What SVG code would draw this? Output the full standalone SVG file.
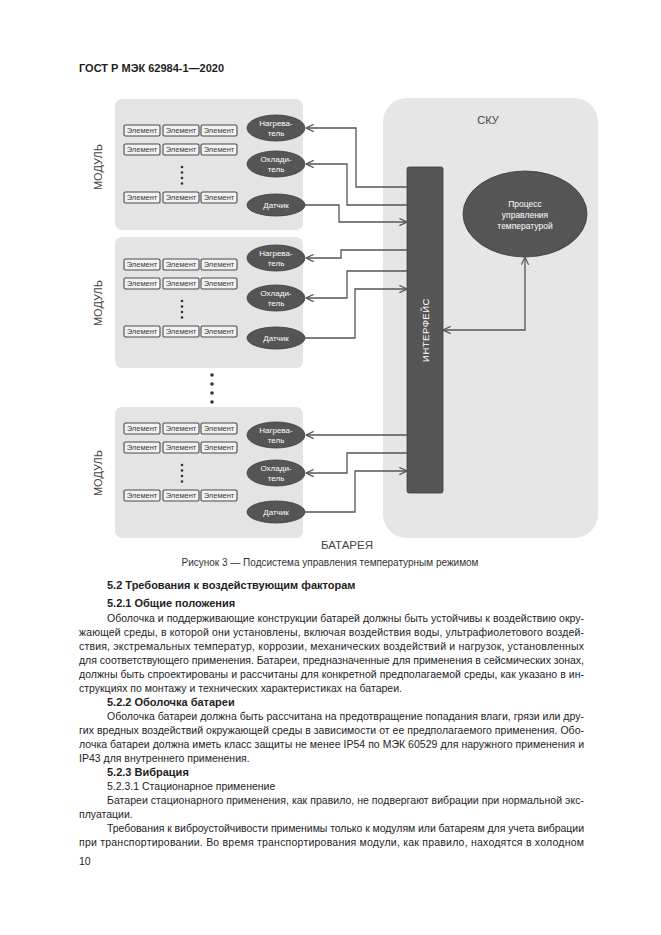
<svg xmlns="http://www.w3.org/2000/svg" width="661" height="935" viewBox="0 0 661 935">
<style>
text{font-family:"Liberation Sans",Arial,sans-serif}
.panel{fill:#e4e4e4}
.sku{fill:#e6e6e6}
.el{fill:#f2f2f2;stroke:#4a4a4a;stroke-width:1.1}
.elt{font-size:7.5px;fill:#3a3a3a;text-anchor:middle}
.ov{fill:#555;stroke:#3c3c3c;stroke-width:0.8}
.ovt{font-size:8px;fill:#fff;text-anchor:middle}
.dot{fill:#333}
.lbl{font-size:11px;fill:#444;text-anchor:middle}
.con{fill:none;stroke:#555;stroke-width:1.3}
.body{font-size:10.5px;fill:#1e1e1e}
.bold{font-size:11px;font-weight:bold;fill:#1e1e1e}
</style>
<defs>
<marker id="ah" viewBox="0 0 10 10" refX="9.5" refY="5" markerWidth="9" markerHeight="9" markerUnits="userSpaceOnUse" orient="auto-start-reverse">
<path d="M1,1 L9.5,5 L1,9" fill="none" stroke="#555" stroke-width="1.3"/>
</marker>
</defs>
<rect width="661" height="935" fill="#fff"/>
<text x="79" y="72" style="font-size:11px;font-weight:bold;fill:#1e1e1e">ГОСТ Р МЭК 62984-1—2020</text>

<g id="sku">
<rect class="sku" x="383" y="98" width="215" height="440" rx="24"/>
<text class="lbl" x="488" y="124">СКУ</text>
</g>

<g id="interface">
<rect x="407" y="167" width="36" height="326" rx="2" fill="#555" stroke="#3c3c3c" stroke-width="0.8"/>
<text transform="translate(429,330) rotate(-90)" text-anchor="middle" style="font-size:9.5px;fill:#fff;letter-spacing:0.5px">ИНТЕРФЕЙС</text>
</g>

<g id="process">
<ellipse class="ov" cx="525" cy="214" rx="62" ry="43"/>
<text class="ovt" style="font-size:8.5px" x="525" y="207">Процесс</text>
<text class="ovt" style="font-size:8.5px" x="525" y="218">управления</text>
<text class="ovt" style="font-size:8.5px" x="525" y="229">температурой</text>
</g>

<g id="module1">
<rect class="panel" x="115" y="99" width="188" height="131" rx="7"/>
<text class="lbl" transform="translate(102,167) rotate(-90)">МОДУЛЬ</text>
<rect class="el" x="124" y="125" width="36" height="11" rx="1.5"/><text class="elt" x="142" y="133.3">Элемент</text>
<rect class="el" x="163" y="125" width="36" height="11" rx="1.5"/><text class="elt" x="181" y="133.3">Элемент</text>
<rect class="el" x="201" y="125" width="36" height="11" rx="1.5"/><text class="elt" x="219" y="133.3">Элемент</text>
<rect class="el" x="124" y="144" width="36" height="11" rx="1.5"/><text class="elt" x="142" y="152.3">Элемент</text>
<rect class="el" x="163" y="144" width="36" height="11" rx="1.5"/><text class="elt" x="181" y="152.3">Элемент</text>
<rect class="el" x="201" y="144" width="36" height="11" rx="1.5"/><text class="elt" x="219" y="152.3">Элемент</text>
<circle class="dot" cx="182" cy="167" r="1.3"/><circle class="dot" cx="182" cy="172.5" r="1.3"/><circle class="dot" cx="182" cy="178" r="1.3"/><circle class="dot" cx="182" cy="183.5" r="1.3"/>
<rect class="el" x="124" y="192" width="36" height="11" rx="1.5"/><text class="elt" x="142" y="200.3">Элемент</text>
<rect class="el" x="163" y="192" width="36" height="11" rx="1.5"/><text class="elt" x="181" y="200.3">Элемент</text>
<rect class="el" x="201" y="192" width="36" height="11" rx="1.5"/><text class="elt" x="219" y="200.3">Элемент</text>
<ellipse class="ov" cx="276" cy="128" rx="29" ry="13"/><text class="ovt" x="276" y="126">Нагрева-</text><text class="ovt" x="276" y="136">тель</text>
<ellipse class="ov" cx="276" cy="164" rx="29" ry="13"/><text class="ovt" x="276" y="162">Охлади-</text><text class="ovt" x="276" y="172">тель</text>
<ellipse class="ov" cx="276" cy="205" rx="29" ry="11"/><text class="ovt" x="276" y="208">Датчик</text>
</g>

<g id="module2">
<rect class="panel" x="115" y="237" width="188" height="131" rx="7"/>
<text class="lbl" transform="translate(102,303) rotate(-90)">МОДУЛЬ</text>
<rect class="el" x="124" y="259" width="36" height="11" rx="1.5"/><text class="elt" x="142" y="267.3">Элемент</text>
<rect class="el" x="163" y="259" width="36" height="11" rx="1.5"/><text class="elt" x="181" y="267.3">Элемент</text>
<rect class="el" x="201" y="259" width="36" height="11" rx="1.5"/><text class="elt" x="219" y="267.3">Элемент</text>
<rect class="el" x="124" y="278" width="36" height="11" rx="1.5"/><text class="elt" x="142" y="286.3">Элемент</text>
<rect class="el" x="163" y="278" width="36" height="11" rx="1.5"/><text class="elt" x="181" y="286.3">Элемент</text>
<rect class="el" x="201" y="278" width="36" height="11" rx="1.5"/><text class="elt" x="219" y="286.3">Элемент</text>
<circle class="dot" cx="182" cy="301" r="1.3"/><circle class="dot" cx="182" cy="306.5" r="1.3"/><circle class="dot" cx="182" cy="312" r="1.3"/><circle class="dot" cx="182" cy="317.5" r="1.3"/>
<rect class="el" x="124" y="326" width="36" height="11" rx="1.5"/><text class="elt" x="142" y="334.3">Элемент</text>
<rect class="el" x="163" y="326" width="36" height="11" rx="1.5"/><text class="elt" x="181" y="334.3">Элемент</text>
<rect class="el" x="201" y="326" width="36" height="11" rx="1.5"/><text class="elt" x="219" y="334.3">Элемент</text>
<ellipse class="ov" cx="276" cy="258" rx="29" ry="13"/><text class="ovt" x="276" y="256">Нагрева-</text><text class="ovt" x="276" y="266">тель</text>
<ellipse class="ov" cx="276" cy="298" rx="29" ry="13"/><text class="ovt" x="276" y="296">Охлади-</text><text class="ovt" x="276" y="306">тель</text>
<ellipse class="ov" cx="276" cy="338" rx="29" ry="11"/><text class="ovt" x="276" y="341">Датчик</text>
</g>

<g id="gapdots">
<circle class="dot" cx="212" cy="375" r="1.8"/><circle class="dot" cx="212" cy="384" r="1.8"/><circle class="dot" cx="212" cy="393" r="1.8"/><circle class="dot" cx="212" cy="402" r="1.8"/>
</g>

<g id="module3">
<rect class="panel" x="115" y="407" width="188" height="131" rx="7"/>
<text class="lbl" transform="translate(102,473) rotate(-90)">МОДУЛЬ</text>
<rect class="el" x="124" y="423" width="36" height="11" rx="1.5"/><text class="elt" x="142" y="431.3">Элемент</text>
<rect class="el" x="163" y="423" width="36" height="11" rx="1.5"/><text class="elt" x="181" y="431.3">Элемент</text>
<rect class="el" x="201" y="423" width="36" height="11" rx="1.5"/><text class="elt" x="219" y="431.3">Элемент</text>
<rect class="el" x="124" y="442" width="36" height="11" rx="1.5"/><text class="elt" x="142" y="450.3">Элемент</text>
<rect class="el" x="163" y="442" width="36" height="11" rx="1.5"/><text class="elt" x="181" y="450.3">Элемент</text>
<rect class="el" x="201" y="442" width="36" height="11" rx="1.5"/><text class="elt" x="219" y="450.3">Элемент</text>
<circle class="dot" cx="182" cy="465" r="1.3"/><circle class="dot" cx="182" cy="470.5" r="1.3"/><circle class="dot" cx="182" cy="476" r="1.3"/><circle class="dot" cx="182" cy="481.5" r="1.3"/>
<rect class="el" x="124" y="490" width="36" height="11" rx="1.5"/><text class="elt" x="142" y="498.3">Элемент</text>
<rect class="el" x="163" y="490" width="36" height="11" rx="1.5"/><text class="elt" x="181" y="498.3">Элемент</text>
<rect class="el" x="201" y="490" width="36" height="11" rx="1.5"/><text class="elt" x="219" y="498.3">Элемент</text>
<ellipse class="ov" cx="276" cy="435" rx="29" ry="13"/><text class="ovt" x="276" y="433">Нагрева-</text><text class="ovt" x="276" y="443">тель</text>
<ellipse class="ov" cx="276" cy="473" rx="29" ry="13"/><text class="ovt" x="276" y="471">Охлади-</text><text class="ovt" x="276" y="481">тель</text>
<ellipse class="ov" cx="276" cy="512" rx="29" ry="11"/><text class="ovt" x="276" y="515">Датчик</text>
</g>

<g id="connectors">
<path class="con" d="M407,187 H356 V128 H306" marker-end="url(#ah)"/>
<path class="con" d="M407,205 H347 V164 H306" marker-end="url(#ah)"/>
<path class="con" d="M305,205 H339 V222 H407" marker-end="url(#ah)"/>
<path class="con" d="M407,250 H341 V258 H306" marker-end="url(#ah)"/>
<path class="con" d="M407,271 H347 V298 H306" marker-end="url(#ah)"/>
<path class="con" d="M305,338 H355 V289 H407" marker-end="url(#ah)"/>
<path class="con" d="M407,435 H306" marker-end="url(#ah)"/>
<path class="con" d="M407,453 H347 V473 H306" marker-end="url(#ah)"/>
<path class="con" d="M305,512 H355 V471 H407" marker-end="url(#ah)"/>
<path class="con" d="M525,257 V330 H443" marker-start="url(#ah)" marker-end="url(#ah)"/>
</g>

<text class="lbl" x="347" y="549" style="font-size:11.5px">БАТАРЕЯ</text>
<text x="330" y="566" text-anchor="middle" style="font-size:10px;fill:#333">Рисунок 3 — Подсистема управления температурным режимом</text>

<text class="bold" x="107" y="589">5.2 Требования к воздействующим факторам</text>
<text class="bold" x="107" y="607">5.2.1 Общие положения</text>
<text class="body" x="107" y="622" textLength="477" lengthAdjust="spacing">Оболочка и поддерживающие конструкции батарей должны быть устойчивы к воздействию окру-</text>
<text class="body" x="79" y="636" textLength="505" lengthAdjust="spacing">жающей среды, в которой они установлены, включая воздействия воды, ультрафиолетового воздей-</text>
<text class="body" x="79" y="650" textLength="505" lengthAdjust="spacing">ствия, экстремальных температур, коррозии, механических воздействий и нагрузок, установленных</text>
<text class="body" x="79" y="664" textLength="505" lengthAdjust="spacing">для соответствующего применения. Батареи, предназначенные для применения в сейсмических зонах,</text>
<text class="body" x="79" y="678" textLength="505" lengthAdjust="spacing">должны быть спроектированы и рассчитаны для конкретной предполагаемой среды, как указано в ин-</text>
<text class="body" x="79" y="692">струкциях по монтажу и технических характеристиках на батареи.</text>
<text class="bold" x="107" y="706">5.2.2 Оболочка батареи</text>
<text class="body" x="107" y="720" textLength="477" lengthAdjust="spacing">Оболочка батареи должна быть рассчитана на предотвращение попадания влаги, грязи или дру-</text>
<text class="body" x="79" y="734" textLength="505" lengthAdjust="spacing">гих вредных воздействий окружающей среды в зависимости от ее предполагаемого применения. Обо-</text>
<text class="body" x="79" y="748" textLength="505" lengthAdjust="spacing">лочка батареи должна иметь класс защиты не менее IP54 по МЭК 60529 для наружного применения и</text>
<text class="body" x="79" y="762">IP43 для внутреннего применения.</text>
<text class="bold" x="107" y="776">5.2.3 Вибрация</text>
<text class="body" x="107" y="790">5.2.3.1 Стационарное применение</text>
<text class="body" x="107" y="804" textLength="477" lengthAdjust="spacing">Батареи стационарного применения, как правило, не подвергают вибрации при нормальной экс-</text>
<text class="body" x="79" y="818">плуатации.</text>
<text class="body" x="107" y="832" textLength="477" lengthAdjust="spacing">Требования к виброустойчивости применимы только к модулям или батареям для учета вибрации</text>
<text class="body" x="79" y="846" textLength="505" lengthAdjust="spacing">при транспортировании. Во время транспортирования модули, как правило, находятся в холодном</text>
<text class="body" x="79" y="865">10</text>
</svg>
